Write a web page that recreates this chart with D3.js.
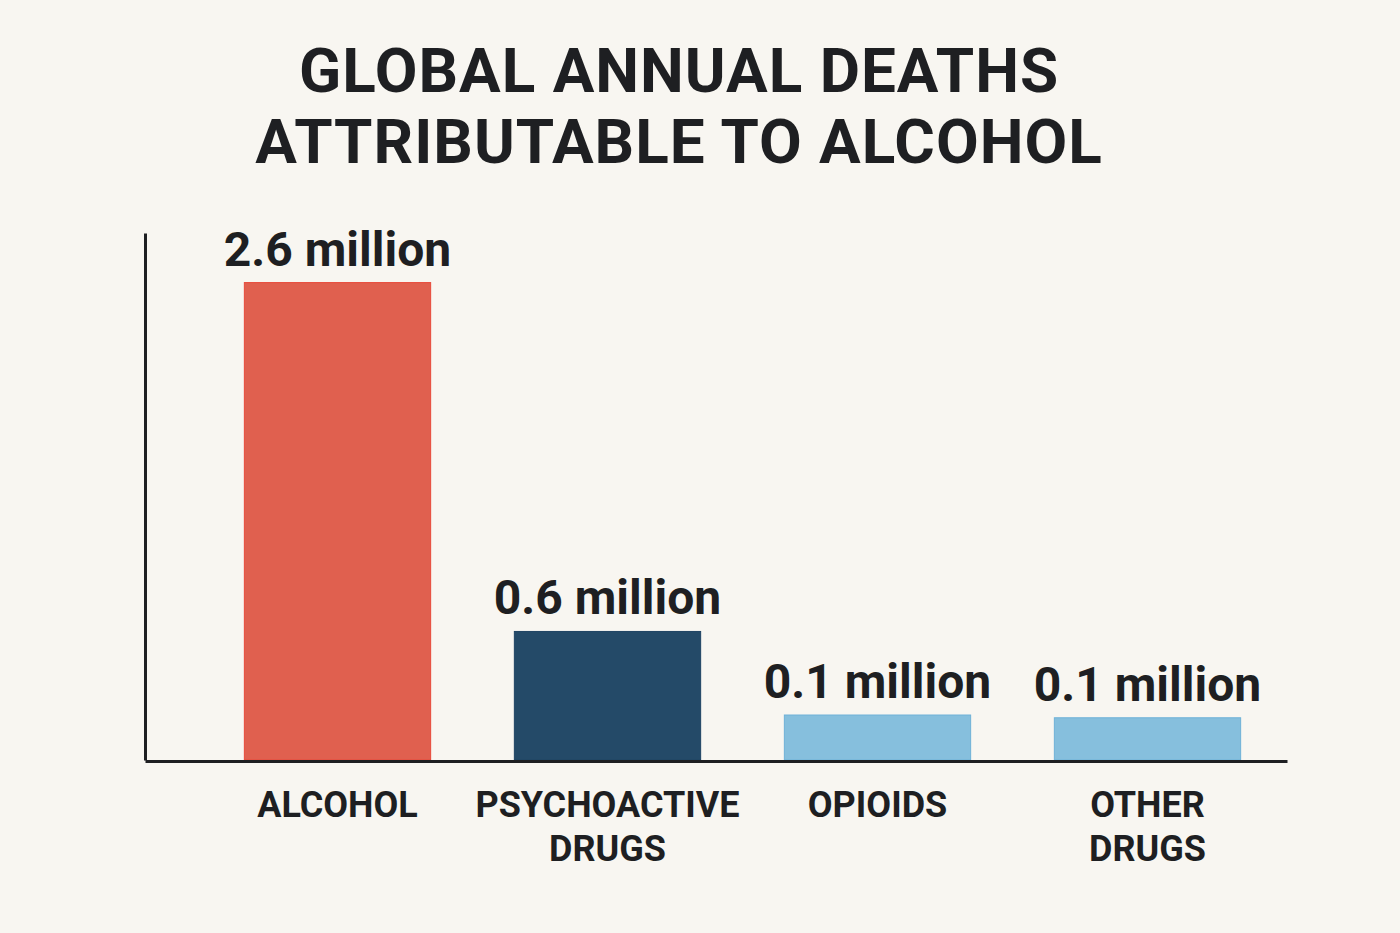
<!DOCTYPE html>
<html>
<head>
<meta charset="utf-8">
<script src="https://cdn.jsdelivr.net/npm/d3@7"></script>
<style>
  html, body { margin: 0; padding: 0; background: #F8F6F1; }
  svg { display: block; }
  text { font-family: Roboto, "Liberation Sans", Arial, sans-serif; fill: #1E1F22; }
</style>
</head>
<body>
<svg id="chart" width="1400" height="933"></svg>
<script>
// ---- data ----
const categories = ["ALCOHOL", "PSYCHOACTIVE DRUGS", "OPIOIDS", "OTHER DRUGS"];
const categoryLines = [["ALCOHOL"], ["PSYCHOACTIVE", "DRUGS"], ["OPIOIDS"], ["OTHER", "DRUGS"]];
const valueLabels = ["2.6 million", "0.6 million", "0.1 million", "0.1 million"];
// bar heights in millions as drawn in the picture (the picture is not to scale for small bars)
const drawnValues = [2.6, 0.70, 0.245, 0.23];
const barColors = ["#E0604F", "#244A68", "#86BFDD", "#86BFDD"];
const barStrokes = ["#E8493A", "#1F4463", "#6FB2D8", "#6FB2D8"];
const titleLines = ["GLOBAL ANNUAL DEATHS", "ATTRIBUTABLE TO ALCOHOL"];
const yMax = 2.87;

// ---- layout ----
const svg = d3.select("#chart");
const axisLeft = 145, axisRight = 1287, baseY = 760;

const x = d3.scaleBand()
  .domain(categories)
  .range([202.5, 1282.5])
  .paddingInner(0.31)
  .paddingOuter(0.155);

const y = d3.scaleLinear().domain([0, yMax]).range([baseY, 233]);

// title
svg.append("g").selectAll("text")
  .data(titleLines)
  .join("text")
  .attr("x", 679)
  .attr("y", (d, i) => 92 + i * 71)
  .attr("text-anchor", "middle")
  .attr("font-size", 62)
  .attr("font-weight", 700)
  .attr("letter-spacing", 1)
  .text(d => d);

const data = categories.map((c, i) => ({ c, v: drawnValues[i], label: valueLabels[i], color: barColors[i], stroke: barStrokes[i], lines: categoryLines[i] }));

// bars
svg.append("g").selectAll("rect")
  .data(data)
  .join("rect")
  .attr("x", d => x(d.c))
  .attr("y", d => y(d.v))
  .attr("width", x.bandwidth())
  .attr("height", d => y(0) - y(d.v))
  .attr("fill", d => d.color)
  .attr("stroke", d => d.stroke)
  .attr("stroke-width", 1);

// value labels
svg.append("g").selectAll("text")
  .data(data)
  .join("text")
  .attr("x", d => x(d.c) + x.bandwidth() / 2)
  .attr("y", d => y(d.v) - 17)
  .attr("text-anchor", "middle")
  .attr("font-size", 48)
  .attr("font-weight", 700)
  .text(d => d.label);

// axes
const xAxis = d3.axisBottom(d3.scaleLinear().range([axisLeft, axisRight])).tickValues([]).tickSizeOuter(0);
svg.append("g")
  .attr("transform", `translate(0,${baseY + 1})`)
  .call(xAxis)
  .call(g => g.select(".domain").attr("stroke", "#1E1F22").attr("stroke-width", 3));

const yAxis = d3.axisLeft(y).tickValues([]).tickSizeOuter(0);
svg.append("g")
  .attr("transform", `translate(${axisLeft},0)`)
  .call(yAxis)
  .call(g => g.select(".domain").attr("stroke", "#1E1F22").attr("stroke-width", 3));

// category labels
const cat = svg.append("g").selectAll("text")
  .data(data)
  .join("text")
  .attr("text-anchor", "middle")
  .attr("font-size", 36)
  .attr("font-weight", 700)
  .attr("y", 817);
cat.selectAll("tspan")
  .data(d => d.lines.map(l => ({ l, cx: x(d.c) + x.bandwidth() / 2 })))
  .join("tspan")
  .attr("x", t => t.cx)
  .attr("dy", (t, i) => i === 0 ? 0 : 44)
  .text(t => t.l);
</script>
</body>
</html>
